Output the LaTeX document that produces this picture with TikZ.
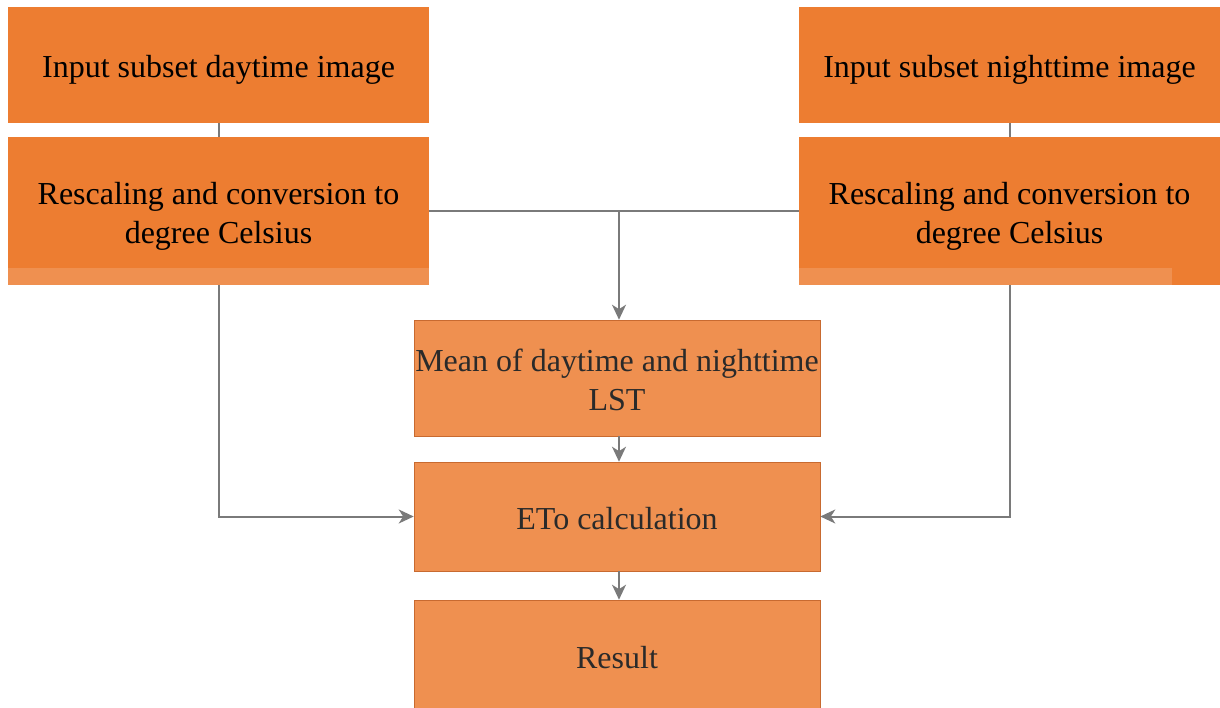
\documentclass[tikz,border=0pt]{standalone}
\usepackage{fontspec}
\setmainfont{Liberation Serif}
\usetikzlibrary{arrows.meta,calc}
\definecolor{boxorange}{HTML}{ED7D31}
\definecolor{paleorange}{HTML}{EF9050}
\definecolor{paleedge}{HTML}{C86A30}
\definecolor{linkgray}{HTML}{7A7A7A}
\definecolor{softtext}{HTML}{2A2A2A}
\tikzset{
  topbox/.style={rectangle, fill=boxorange, draw=none, inner sep=0pt,
    minimum width=421pt},
  flowbox/.style={rectangle, fill=paleorange, draw=paleedge, line width=0.6pt,
    inner sep=0pt, minimum width=406pt},
  toptext/.style={inner sep=0pt, align=center, text=black,
    font=\fontsize{32}{39}\selectfont},
  flowtext/.style={inner sep=0pt, align=center, text=softtext,
    font=\fontsize{32}{39}\selectfont},
  link/.style={draw=linkgray, line width=2pt},
  arrowlink/.style={link, -{Stealth[length=15pt,width=14pt,inset=4.5pt]}}
}
\begin{document}
\begin{tikzpicture}[x=1pt,y=-1pt]
  \useasboundingbox (0,0) rectangle (1220,708);
  \fill[white] (0,0) rectangle (1220,708);

  % left column
  \node[topbox, minimum height=116pt] (dayin) at (218.5,65) {};
  \node[topbox, minimum height=148pt] (dayconv) at (218.5,211) {};
  % right column
  \node[topbox, minimum height=116pt] (nightin) at (1009.5,65) {};
  \node[topbox, minimum height=148pt] (nightconv) at (1009.5,211) {};
  % lighter lower strips of the conversion boxes
  \fill[paleorange] (8,268) rectangle (429,285);
  \fill[paleorange] (799,268) rectangle (1172,285);

  % central column
  \node[flowbox, minimum height=116pt] (mean) at (617,378) {};
  \node[flowbox, minimum height=109pt] (eto) at (617,516.5) {};
  \node[flowbox, minimum height=108pt] (result) at (617,654) {};

  % box texts
  \node[toptext] (dayin-t) at ($(dayin)+(0,5)$) {Input subset daytime image};
  \node[toptext] (dayconv-t) at ($(dayconv)+(0,5)$) {Rescaling and conversion to\\degree Celsius};
  \node[toptext] (nightin-t) at ($(nightin)+(0,5)$) {Input subset nighttime image};
  \node[toptext] (nightconv-t) at ($(nightconv)+(0,5)$) {Rescaling and conversion to\\degree Celsius};
  \node[flowtext] (mean-t) at ($(mean)+(0,2)$) {Mean of daytime and nighttime\\LST};
  \node[flowtext] (eto-t) at ($(eto)+(0,2)$) {ETo calculation};
  \node[flowtext] (result-t) at ($(result)+(0,4)$) {Result};

  % connectors
  \draw[link] (dayin.south) -- (dayconv.north);
  \draw[link] (nightin.south) -- (nightconv.north);
  \draw[link] (dayconv.east) -- (nightconv.west);
  \coordinate (branch) at (619,211);
  \draw[arrowlink] (branch) -- (branch |- mean.north);
  \draw[arrowlink] (dayconv.south) |- (eto.west);
  \draw[arrowlink] (nightconv.south) |- (eto.east);
  \draw[arrowlink] ($(mean.south)+(2,0)$) -- ($(eto.north)+(2,0)$);
  \draw[arrowlink] ($(eto.south)+(2,0)$) -- ($(result.north)+(2,0)$);
\end{tikzpicture}
\end{document}
